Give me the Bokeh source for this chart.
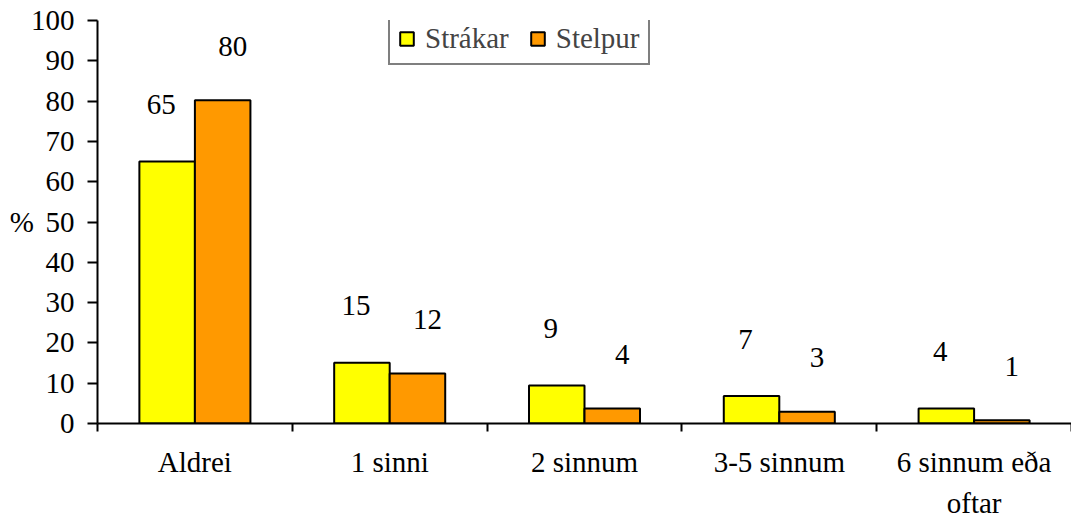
from bokeh.plotting import figure
from bokeh.models import ColumnDataSource, FixedTicker, Legend, LegendItem, Range1d
from bokeh.core.properties import value
from bokeh.embed import file_html
from bokeh.resources import INLINE

categories = ["Aldrei", "1 sinni", "2 sinnum", "3-5 sinnum", "6 sinnum eða\noftar"]
strakar = [65.0, 15.1, 9.4, 6.8, 3.7]
stelpur = [80.2, 12.4, 3.7, 2.9, 0.8]
series_names = ["Strákar", "Stelpur"]
y_ticks = [0, 10, 20, 30, 40, 50, 60, 70, 80, 90, 100]

FONT = "'Liberation Serif'"
FS = "29px"
YELLOW = "#FFFF00"
ORANGE = "#FF9900"
BW = 0.285

n = len(categories)
centers = [i + 0.5 for i in range(n)]
src = ColumnDataSource(dict(
    xs=[c - BW / 2 for c in centers],
    xo=[c + BW / 2 for c in centers],
    ys=strakar,
    yo=stelpur,
    ls=[str(int(round(v))) for v in strakar],
    lo=[str(int(round(v))) for v in stelpur],
))

p = figure(width=1071, height=522, output_backend="svg", toolbar_location=None,
           x_range=Range1d(0, n), y_range=Range1d(0, 100),
           min_border_left=97, min_border_top=20, min_border_right=0, min_border_bottom=80)
p.outline_line_color = None
p.xgrid.visible = False
p.ygrid.visible = False

r1 = p.vbar(x="xs", top="ys", width=BW, source=src, fill_color=YELLOW, line_color="black", line_width=2)
r2 = p.vbar(x="xo", top="yo", width=BW, source=src, fill_color=ORANGE, line_color="black", line_width=2)

p.text(x="xs", y="ys", text="ls", source=src, x_offset=-6, y_offset=-57,
       text_align="center", text_baseline="middle", text_font=value(FONT),
       text_font_size=value(FS), text_color="black")
p.text(x="xo", y="yo", text="lo", source=src, x_offset=10, y_offset=-54,
       text_align="center", text_baseline="middle", text_font=value(FONT),
       text_font_size=value(FS), text_color="black")

# y axis
ya = p.yaxis[0]
ya.ticker = FixedTicker(ticks=y_ticks, minor_ticks=[])
ya.axis_line_width = 2
ya.axis_line_color = "black"
ya.major_tick_out = 10
ya.major_tick_in = 0
ya.major_tick_line_width = 2
ya.minor_tick_out = 0
ya.minor_tick_in = 0
ya.major_label_text_font = FONT
ya.major_label_text_font_size = FS
ya.major_label_text_color = "black"
ya.major_label_standoff = 13
ya.axis_label = "%"
ya.axis_label_orientation = "horizontal"
ya.axis_label_text_font = FONT
ya.axis_label_text_font_size = FS
ya.axis_label_text_font_style = "normal"
ya.axis_label_text_color = "black"
ya.axis_label_standoff = -6

# x axis
xa = p.xaxis[0]
xa.ticker = FixedTicker(ticks=centers, minor_ticks=list(range(n + 1)))
xa.major_label_overrides = {c: lab for c, lab in zip(centers, categories)}
xa.axis_line_width = 2
xa.axis_line_color = "black"
xa.major_tick_out = 0
xa.major_tick_in = 0
xa.minor_tick_out = 8
xa.minor_tick_in = 0
xa.minor_tick_line_width = 2
xa.minor_tick_line_color = "black"
xa.major_label_text_font = FONT
xa.major_label_text_font_size = FS
xa.major_label_text_color = "black"
xa.major_label_text_line_height = 1.3
xa.major_label_standoff = 14

legend = Legend(items=[LegendItem(label=series_names[0], renderers=[r1]),
                       LegendItem(label=series_names[1], renderers=[r2])],
                orientation="horizontal", location=(291, 358), margin=0,
                padding=8, spacing=20, label_standoff=10,
                glyph_width=17, glyph_height=17,
                label_text_font=FONT, label_text_font_size=FS,
                border_line_color="black", border_line_width=2,
                background_fill_color="white", background_fill_alpha=1)
p.add_layout(legend, "center")

open("out.html", "w").write(file_html(p, INLINE))
